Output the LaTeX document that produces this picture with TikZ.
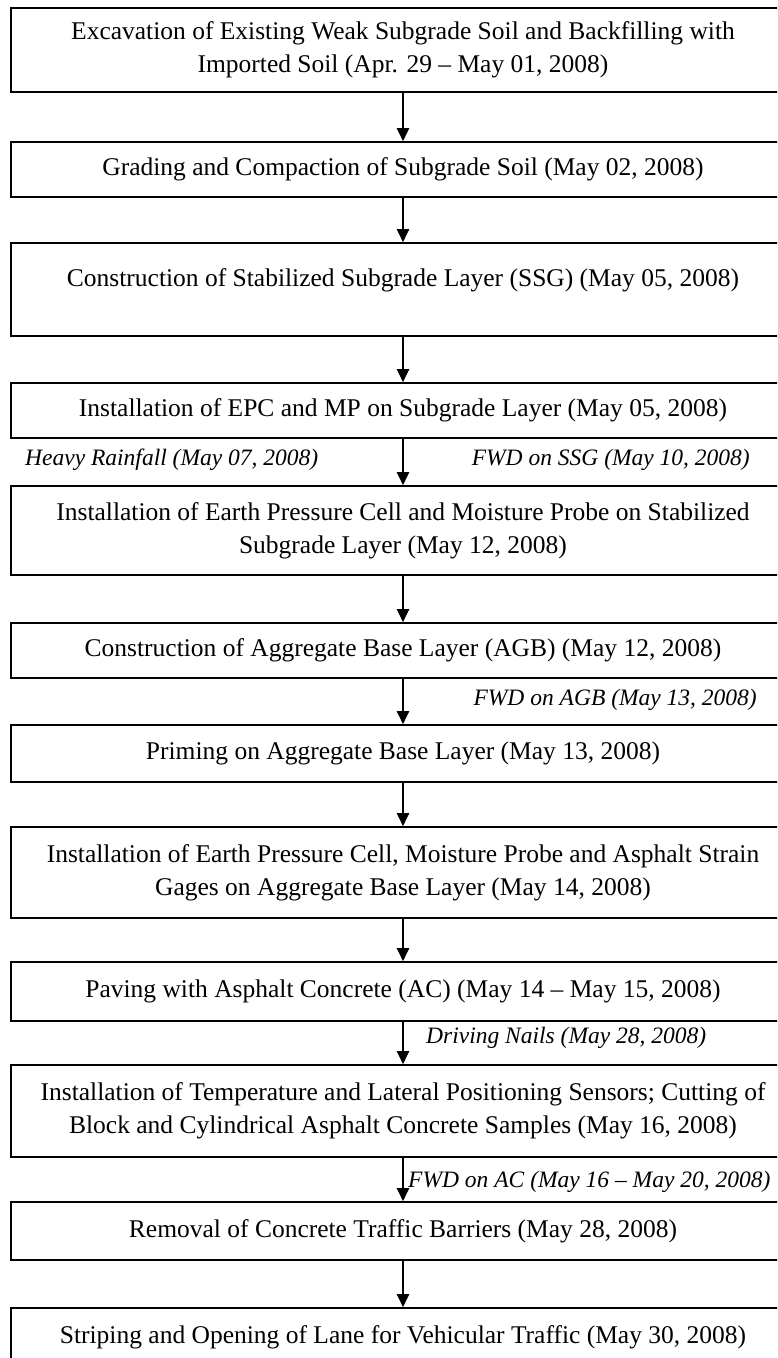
\documentclass[tikz,border=0pt]{standalone}
\usepackage{fontspec}
\setmainfont{Liberation Serif}
\usetikzlibrary{arrows.meta}

\begin{document}
\begin{tikzpicture}[x=1pt,y=-1pt,
  stage/.style={draw,line width=1.6pt,minimum width=784pt,align=center,inner sep=0pt,
    font=\fontsize{25.5}{33}\selectfont},
  note/.style={inner sep=0pt,font=\fontsize{23.5}{28}\selectfont\itshape},
  flow/.style={line width=2pt,-{Triangle[width=12pt,length=13pt]}}]
\useasboundingbox (0,0) rectangle (777,1358);
\clip (0,0) rectangle (777,1358);
% construction stages, top to bottom
\node[stage,minimum height=84pt] (s1) at (403,50) {Excavation of Existing Weak Subgrade Soil and Backfilling with\\Imported Soil (Apr. 29 -- May 01, 2008)};
\node[stage,minimum height=55pt] (s2) at (403,169.5) {Grading and Compaction of Subgrade Soil (May 02, 2008)};
\node[stage,minimum height=93pt] (s3) at (403,289.5) {Construction of Stabilized Subgrade Layer (SSG) (May 05, 2008)\\[-10pt]\mbox{}};
\node[stage,minimum height=55pt] (s4) at (403,410.5) {Installation of EPC and MP on Subgrade Layer (May 05, 2008)};
\node[stage,minimum height=89pt] (s5) at (403,530.5) {Installation of Earth Pressure Cell and Moisture Probe on Stabilized\\Subgrade Layer (May 12, 2008)};
\node[stage,minimum height=55pt] (s6) at (403,650.5) {Construction of Aggregate Base Layer (AGB) (May 12, 2008)};
\node[stage,minimum height=57pt] (s7) at (403,753.5) {Priming on Aggregate Base Layer (May 13, 2008)};
\node[stage,minimum height=91pt] (s8) at (403,872.5) {Installation of Earth Pressure Cell, Moisture Probe and Asphalt Strain\\Gages on Aggregate Base Layer (May 14, 2008)};
\node[stage,minimum height=59pt] (s9) at (403,991.5) {Paving with Asphalt Concrete (AC) (May 14 -- May 15, 2008)};
\node[stage,minimum height=92pt] (s10) at (403,1111) {Installation of Temperature and Lateral Positioning Sensors; Cutting of\\Block and Cylindrical Asphalt Concrete Samples (May 16, 2008)};
\node[stage,minimum height=58pt] (s11) at (403,1231) {Removal of Concrete Traffic Barriers (May 28, 2008)};
\node[stage,minimum height=58pt] (s12) at (403,1337) {Striping and Opening of Lane for Vehicular Traffic (May 30, 2008)};
\foreach \a/\b in {s1/s2,s2/s3,s3/s4,s4/s5,s5/s6,s6/s7,s7/s8,s8/s9,s9/s10,s10/s11,s11/s12}
  \draw[flow] (\a) -- (\b);
% events between stages
\node[note,anchor=west] (rain) at (25,460) {Heavy Rainfall (May 07, 2008)};
\node[note,anchor=east] (fwdssg) at (750,460) {FWD on SSG (May 10, 2008)};
\node[note,anchor=east] (fwdagb) at (757,700) {FWD on AGB (May 13, 2008)};
\node[note,anchor=west] (nails) at (426,1038) {Driving Nails (May 28, 2008)};
\node[note,anchor=west] (fwdac) at (408,1182) {FWD on AC (May 16 -- May 20, 2008)};
\end{tikzpicture}
\end{document}
